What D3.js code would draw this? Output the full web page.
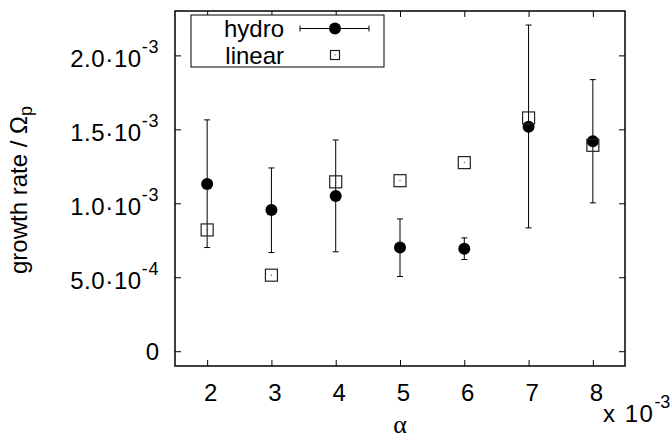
<!DOCTYPE html>
<html>
<head>
<meta charset="utf-8">
<script src="https://cdn.jsdelivr.net/npm/d3@7"></script>
<style>
  html, body { margin: 0; padding: 0; background: #fff; }
  svg { display: block; }
  text { font-family: "Liberation Sans", Arial, Helvetica, sans-serif; fill: #000; }
</style>
</head>
<body>
<script>
// ---- data ----
const alphaVals   = [2, 3, 4, 5, 6, 7, 8];                 // x 10^-3
const hydroVals   = [1.131e-3, 0.955e-3, 1.050e-3, 0.701e-3, 0.692e-3, 1.518e-3, 1.419e-3];
const hydroHigh   = [1.564e-3, 1.239e-3, 1.428e-3, 0.894e-3, 0.766e-3, 2.205e-3, 1.836e-3];
const hydroLow    = [0.701e-3, 0.667e-3, 0.672e-3, 0.505e-3, 0.620e-3, 0.834e-3, 1.003e-3];
const linearVals  = [0.820e-3, 0.514e-3, 1.145e-3, 1.153e-3, 1.275e-3, 1.577e-3, 1.392e-3];
const xTicks      = [2, 3, 4, 5, 6, 7, 8];
const yTicks      = [0, 5e-4, 1e-3, 1.5e-3, 2e-3];
const yTickMain   = ["0", "5.0·10", "1.0·10", "1.5·10", "2.0·10"];
const yTickExp    = ["", "-4", "-3", "-3", "-3"];
const seriesNames = ["hydro", "linear"];

const W = 672, H = 441;
const L = 175, R = 625, T = 11, B = 366;
const FS = 24, FSS = 18;

const svg = d3.select("body").append("svg").attr("width", W).attr("height", H);

const x = d3.scaleLinear().domain([1.5, 8.5]).range([L, R]);
const y = d3.scaleLinear().domain([-1e-4, 2.3e-3]).range([B, T]);

// axes (ticks inward, mirrored)
const gx = svg.append("g").attr("transform", `translate(0,${B})`)
  .call(d3.axisBottom(x).tickValues(xTicks).tickSizeInner(-6).tickSizeOuter(0).tickPadding(18).tickFormat(d3.format("d")));
const gxTop = svg.append("g").attr("transform", `translate(0,${T})`)
  .call(d3.axisTop(x).tickValues(xTicks).tickSizeInner(-6).tickSizeOuter(0).tickFormat(""));
const gy = svg.append("g").attr("transform", `translate(${L},0)`)
  .call(d3.axisLeft(y).tickValues(yTicks).tickSizeInner(-6).tickSizeOuter(0).tickPadding(16));
const gyR = svg.append("g").attr("transform", `translate(${R},0)`)
  .call(d3.axisRight(y).tickValues(yTicks).tickSizeInner(-6).tickSizeOuter(0).tickFormat(""));

[gx, gxTop, gy, gyR].forEach(g => {
  g.attr("font-size", FS).attr("font-family", null);
  g.select(".domain").remove();
  g.selectAll(".tick line").attr("stroke", "#000").attr("stroke-width", 1);
});

gx.selectAll(".tick text").attr("font-size", FS).attr("dx", 3);

gy.selectAll(".tick text").each(function(d, i) {
  const t = d3.select(this);
  t.text(null).attr("font-size", FS);
  if (yTickExp[i] === "") {
    t.attr("dy", "8.5").text(yTickMain[i]);
  } else {
    t.attr("dy", "11");
    t.append("tspan").attr("letter-spacing", 0.6).text(yTickMain[i]);
    t.append("tspan").attr("font-size", FSS).attr("dy", -14).attr("letter-spacing", 0.6).text(yTickExp[i]);
  }
});

// frame
svg.append("rect").attr("x", L).attr("y", T).attr("width", R - L).attr("height", B - T)
  .attr("fill", "none").attr("stroke", "#000").attr("stroke-width", 1.5);

// axis titles
const xt = svg.append("text").attr("x", 603).attr("y", 421.7).attr("font-size", FS);
xt.append("tspan").attr("letter-spacing", 1.5).text("x 10");
xt.append("tspan").attr("font-size", FSS).attr("dy", -14).text("-3");

svg.append("text").attr("x", 400).attr("y", 433).attr("text-anchor", "middle")
  .attr("font-size", 26).style("font-family", "Liberation Serif, serif").text("α");

const yl = svg.append("text").attr("transform", "translate(27,190) rotate(-90)")
  .attr("text-anchor", "middle").attr("font-size", FS);
yl.append("tspan").text("growth rate / Ω");
yl.append("tspan").attr("font-size", FSS).attr("dy", 5).text("p");

// data
const plot = svg.append("g");
const idx = d3.range(alphaVals.length);

// error bars
const eb = plot.append("g").attr("stroke", "#000").attr("stroke-width", 1);
eb.selectAll("line.v").data(idx).join("line").attr("class", "v")
  .attr("x1", i => x(alphaVals[i])).attr("x2", i => x(alphaVals[i]))
  .attr("y1", i => y(hydroLow[i])).attr("y2", i => y(hydroHigh[i]));
eb.selectAll("line.ct").data(idx).join("line").attr("class", "ct")
  .attr("x1", i => x(alphaVals[i]) - 3).attr("x2", i => x(alphaVals[i]) + 3)
  .attr("y1", i => y(hydroHigh[i])).attr("y2", i => y(hydroHigh[i]));
eb.selectAll("line.cb").data(idx).join("line").attr("class", "cb")
  .attr("x1", i => x(alphaVals[i]) - 3).attr("x2", i => x(alphaVals[i]) + 3)
  .attr("y1", i => y(hydroLow[i])).attr("y2", i => y(hydroLow[i]));

plot.selectAll("circle.h").data(idx).join("circle").attr("class", "h")
  .attr("cx", i => x(alphaVals[i])).attr("cy", i => y(hydroVals[i])).attr("r", 6).attr("fill", "#000");

const sq = 12;
plot.selectAll("rect.l").data(idx).join("rect").attr("class", "l")
  .attr("x", i => x(alphaVals[i]) - sq / 2).attr("y", i => y(linearVals[i]) - sq / 2)
  .attr("width", sq).attr("height", sq).attr("fill", "none").attr("stroke", "#222").attr("stroke-width", 1.2);
plot.selectAll("rect.ld").data(idx).join("rect").attr("class", "ld")
  .attr("x", i => x(alphaVals[i]) - 0.5).attr("y", i => y(linearVals[i]) - 0.5)
  .attr("width", 1).attr("height", 1).attr("fill", "#222");

// legend
const lg = svg.append("g");
lg.append("rect").attr("x", 191).attr("y", 15).attr("width", 193).attr("height", 52)
  .attr("fill", "#fff").attr("stroke", "#000").attr("stroke-width", 1);
lg.append("text").attr("x", 284).attr("y", 37).attr("text-anchor", "end").attr("font-size", FS).text(seriesNames[0]);
lg.append("text").attr("x", 284).attr("y", 63.5).attr("text-anchor", "end").attr("font-size", FS).text(seriesNames[1]);
const ly1 = 28.5, ly2 = 55;
lg.append("line").attr("x1", 300).attr("x2", 369).attr("y1", ly1).attr("y2", ly1).attr("stroke", "#000");
lg.append("line").attr("x1", 300).attr("x2", 300).attr("y1", ly1 - 3).attr("y2", ly1 + 3).attr("stroke", "#000");
lg.append("line").attr("x1", 369).attr("x2", 369).attr("y1", ly1 - 3).attr("y2", ly1 + 3).attr("stroke", "#000");
lg.append("circle").attr("cx", 335).attr("cy", ly1).attr("r", 6).attr("fill", "#000");
lg.append("rect").attr("x", 335 - 4.5).attr("y", ly2 - 4.5).attr("width", 9).attr("height", 9)
  .attr("fill", "none").attr("stroke", "#222").attr("stroke-width", 1.2);
lg.append("rect").attr("x", 334.5).attr("y", ly2 - 0.5).attr("width", 1).attr("height", 1).attr("fill", "#222");
</script>
</body>
</html>
